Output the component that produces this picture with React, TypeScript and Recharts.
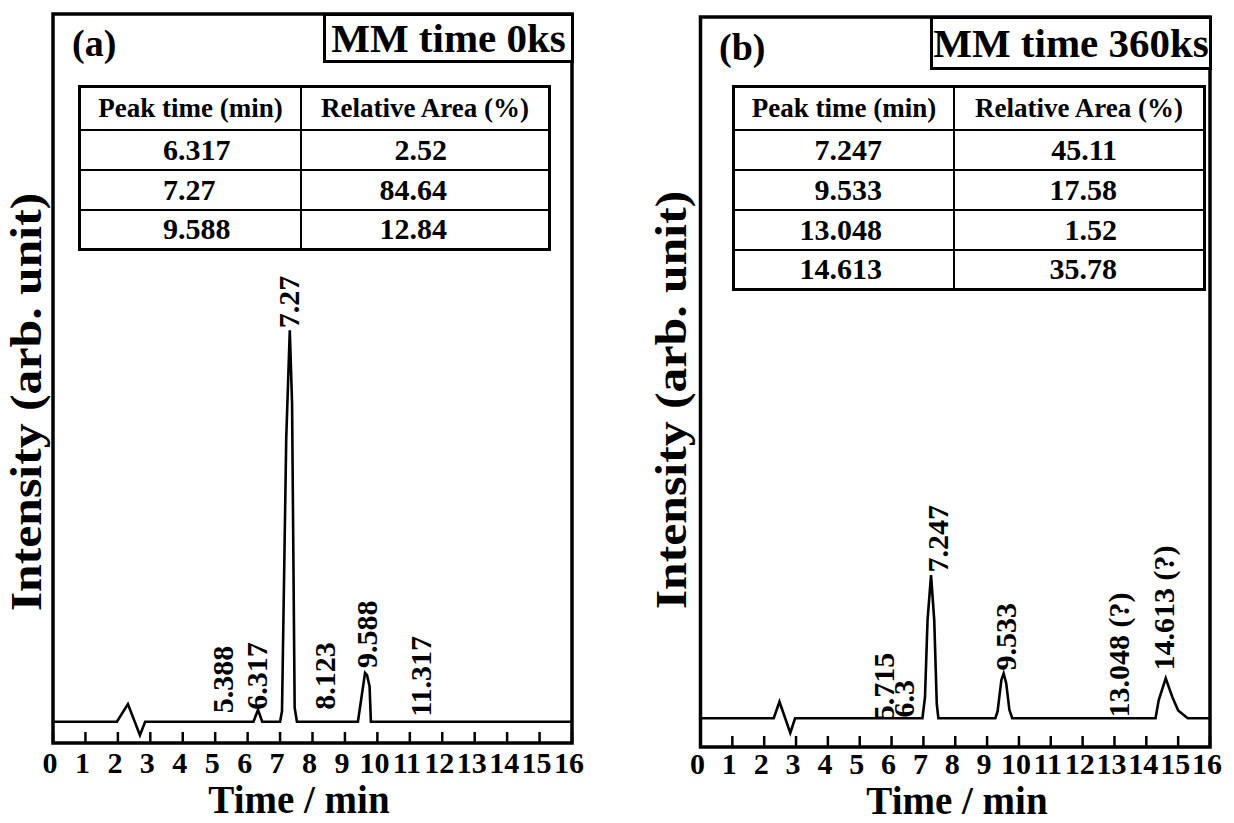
import React from 'react';
import { ComposedChart, Line, Scatter, XAxis, YAxis, ReferenceArea } from 'recharts';

const FONT = '"Liberation Serif", "Times New Roman", Times, serif';

const timeTicks = [0, 1, 2, 3, 4, 5, 6, 7, 8, 9, 10, 11, 12, 13, 14, 15, 16];

// (a) MM time 0ks
const timeA = [0, 1.97, 2.31, 2.68, 2.84, 6.18, 6.32, 6.45, 7.0, 7.06, 7.19, 7.3, 7.37, 7.45, 7.52, 9.4, 9.62, 9.68, 9.76, 9.8, 16];
const signalA = [0, 0, 2.5, -1.9, 0, 0, 1.7, 0, 0, 1.5, 40, 55.3, 45, 2, 0, 0, 6.9, 6.6, 5, 0, 0];
const peakLabelsA = ['5.388', '6.317', '7.27', '8.123', '9.588', '11.317'];
const peakLabelTimesA = [5.24, 6.26, 7.27, 8.38, 9.68, 11.34];
const peakLabelHeightsA = [1.2, 1.7, 55.6, 1.7, 7.6, 0.7];
const tablePeakA = ['6.317', '7.27', '9.588'];
const tableAreaA = ['2.52', '84.64', '12.84'];

// (b) MM time 360ks
const timeB = [0, 2.3, 2.48, 2.82, 2.97, 6.97, 7.05, 7.13, 7.24, 7.34, 7.42, 7.47, 9.26, 9.33, 9.45, 9.52, 9.6, 9.7, 9.79, 14.29, 14.39, 14.61, 14.71, 14.82, 15.0, 15.3, 16];
const signalB = [0, 0, 2.35, -2.1, 0, 0, 3, 14, 20.4, 14, 2, 0, 0, 1, 5.5, 6.4, 5, 1.2, 0, 0, 2.6, 5.7, 4.4, 3.0, 1.1, 0, 0];
const peakLabelsB = ['5.715', '6.3', '7.247', '9.533', '13.048 (?)', '14.613 (?)'];
const peakLabelTimesB = [5.74, 6.37, 7.44, 9.58, 13.13, 14.54];
const peakLabelHeightsB = [-0.3, 0.1, 20.8, 6.8, 0.1, 6.8];
const tablePeakB = ['7.247', '9.533', '13.048', '14.613'];
const tableAreaB = ['45.11', '17.58', '1.52', '35.78'];

const TimeTick = (props: any) => {
  const { x, y, payload, labelGap } = props;
  return (
    <g>
      <line x1={x} y1={y} x2={x} y2={y - 11} stroke="#000" strokeWidth={2.5} />
      <text
        x={x - 3}
        y={y + labelGap}
        textAnchor="middle"
        dominantBaseline="central"
        fontFamily={FONT}
        fontWeight="bold"
        fontSize={30}
        fill="#000"
      >
        {payload.value}
      </text>
    </g>
  );
};

const PeakLabel = (props: any) => {
  const { cx, cy, payload } = props;
  if (cx == null || cy == null) return null;
  return (
    <text
      x={cx}
      y={cy}
      transform={`rotate(-90 ${cx} ${cy})`}
      textAnchor="start"
      dominantBaseline="central"
      fontFamily={FONT}
      fontWeight="bold"
      fontSize={30}
      fill="#000"
    >
      {payload.label}
    </text>
  );
};

interface PanelProps {
  left: number;
  width: number;
  margin: { top: number; left: number; right: number; bottom: number };
  axisHeight: number;
  labelGap: number;
  yDomain: [number, number];
  times: number[];
  signal: number[];
  labels: string[];
  labelTimes: number[];
  labelHeights: number[];
}

const Chromatogram = (p: PanelProps) => {
  const trace = p.times.map((t, i) => ({ t, y: p.signal[i] }));
  const marks = p.labels.map((label, i) => ({ t: p.labelTimes[i], y: p.labelHeights[i], label }));
  return (
    <div style={{ position: 'absolute', left: p.left, top: 0 }}>
      <ComposedChart width={p.width} height={823} margin={p.margin}>
        <XAxis
          type="number"
          dataKey="t"
          domain={[0, 16]}
          ticks={timeTicks}
          interval={0}
          allowDataOverflow
          axisLine={false}
          tickLine={false}
          tickSize={0}
          tickMargin={0}
          height={p.axisHeight}
          tick={(tp: any) => <TimeTick {...tp} labelGap={p.labelGap} />}
        />
        <YAxis type="number" dataKey="y" hide domain={p.yDomain} allowDataOverflow />
        <Line
          data={trace}
          dataKey="y"
          type="linear"
          stroke="#000"
          strokeWidth={2.6}
          dot={false}
          isAnimationActive={false}
        />
        <Scatter
          data={marks}
          dataKey="y"
          isAnimationActive={false}
          shape={(sp: any) => <PeakLabel {...sp} />}
        />
        <ReferenceArea
          x1={0}
          x2={16}
          y1={p.yDomain[0]}
          y2={p.yDomain[1]}
          fill="none"
          stroke="#000"
          strokeWidth={3.5}
          ifOverflow="visible"
        />
      </ComposedChart>
    </div>
  );
};

const cellBorder = '2.5px solid #000';

interface TableProps {
  left: number;
  top: number;
  col1: number;
  col2: number;
  peaks: string[];
  areas: string[];
  peakAlign: 'left' | 'right';
  peakPad: number;
  areaPad: number;
}

const AreaTable = (t: TableProps) => (
  <table
    style={{
      position: 'absolute',
      left: t.left,
      top: t.top,
      borderCollapse: 'collapse',
      tableLayout: 'fixed',
      width: t.col1 + t.col2,
      border: '3px solid #000',
      fontFamily: FONT,
      fontWeight: 'bold',
      color: '#000',
    }}
  >
    <tbody>
      <tr style={{ height: 43 }}>
        <td style={{ width: t.col1, border: cellBorder, fontSize: 27, textAlign: 'center', padding: 0 }}>
          Peak time (min)
        </td>
        <td style={{ width: t.col2, border: cellBorder, fontSize: 27, textAlign: 'center', padding: 0 }}>
          Relative Area (%)
        </td>
      </tr>
      {t.peaks.map((pk, i) => (
        <tr key={pk} style={{ height: 40 }}>
          <td
            style={{
              border: cellBorder,
              fontSize: 30,
              lineHeight: '34px',
              padding: 0,
              textAlign: t.peakAlign,
              paddingLeft: t.peakAlign === 'left' ? t.peakPad : 0,
              paddingRight: t.peakAlign === 'right' ? t.peakPad : 0,
            }}
          >
            {pk}
          </td>
          <td
            style={{
              border: cellBorder,
              fontSize: 30,
              lineHeight: '34px',
              padding: 0,
              textAlign: 'right',
              paddingRight: t.areaPad,
            }}
          >
            {t.areas[i]}
          </td>
        </tr>
      ))}
    </tbody>
  </table>
);

const textBase: React.CSSProperties = {
  position: 'absolute',
  fontFamily: FONT,
  fontWeight: 'bold',
  color: '#000',
  whiteSpace: 'nowrap',
};

const TitleBox = ({ left, top, width, height, text }: any) => (
  <div
    style={{
      ...textBase,
      left,
      top,
      width,
      height,
      boxSizing: 'border-box',
      border: '3px solid #000',
      background: '#fff',
      display: 'flex',
      alignItems: 'center',
      justifyContent: 'center',
      fontSize: 41,
      lineHeight: 1,
    }}
  >
    {text}
  </div>
);

const YLabel = ({ cx, cy }: any) => (
  <div
    style={{
      ...textBase,
      left: cx - 250,
      top: cy - 25,
      width: 500,
      height: 50,
      lineHeight: '50px',
      textAlign: 'center',
      fontSize: 44,
      transform: 'rotate(-90deg) scale(1.13, 1)',
    }}
  >
    Intensity (arb. unit)
  </div>
);

const XLabel = ({ cx, top }: any) => (
  <div style={{ ...textBase, left: cx - 150, top, width: 300, height: 40, textAlign: 'center', fontSize: 39, lineHeight: '40px' }}>
    Time / min
  </div>
);

export default function App() {
  return (
    <div style={{ position: 'absolute', left: 0, top: 0, width: 1234, height: 823, background: '#fff', overflow: 'hidden' }}>
      <Chromatogram
        left={0}
        width={600}
        margin={{ top: 14, left: 53, right: 28, bottom: 0 }}
        axisHeight={80}
        labelGap={19}
        yDomain={[-3, 100]}
        times={timeA}
        signal={signalA}
        labels={peakLabelsA}
        labelTimes={peakLabelTimesA}
        labelHeights={peakLabelHeightsA}
      />
      <Chromatogram
        left={620}
        width={614}
        margin={{ top: 17, left: 80.5, right: 24, bottom: 0 }}
        axisHeight={76}
        labelGap={16}
        yDomain={[-4.1, 100]}
        times={timeB}
        signal={signalB}
        labels={peakLabelsB}
        labelTimes={peakLabelTimesB}
        labelHeights={peakLabelHeightsB}
      />

      <TitleBox left={323} top={13} width={251} height={50} text="MM time 0ks" />
      <TitleBox left={930} top={16} width={282} height={54} text="MM time 360ks" />

      <div style={{ ...textBase, left: 72, top: 24, fontSize: 38, lineHeight: 1 }}>(a)</div>
      <div style={{ ...textBase, left: 719, top: 28, fontSize: 38, lineHeight: 1 }}>(b)</div>

      <AreaTable left={78} top={85} col1={219} col2={246} peaks={tablePeakA} areas={tableAreaA} peakAlign="left" peakPad={82} areaPad={101} />
      <AreaTable left={732} top={85} col1={218} col2={248} peaks={tablePeakB} areas={tableAreaB} peakAlign="right" peakPad={71} areaPad={86} />

      <YLabel cx={27} cy={402} />
      <YLabel cx={672} cy={400} />

      <XLabel cx={299} top={780} />
      <XLabel cx={957} top={781} />
    </div>
  );
}
